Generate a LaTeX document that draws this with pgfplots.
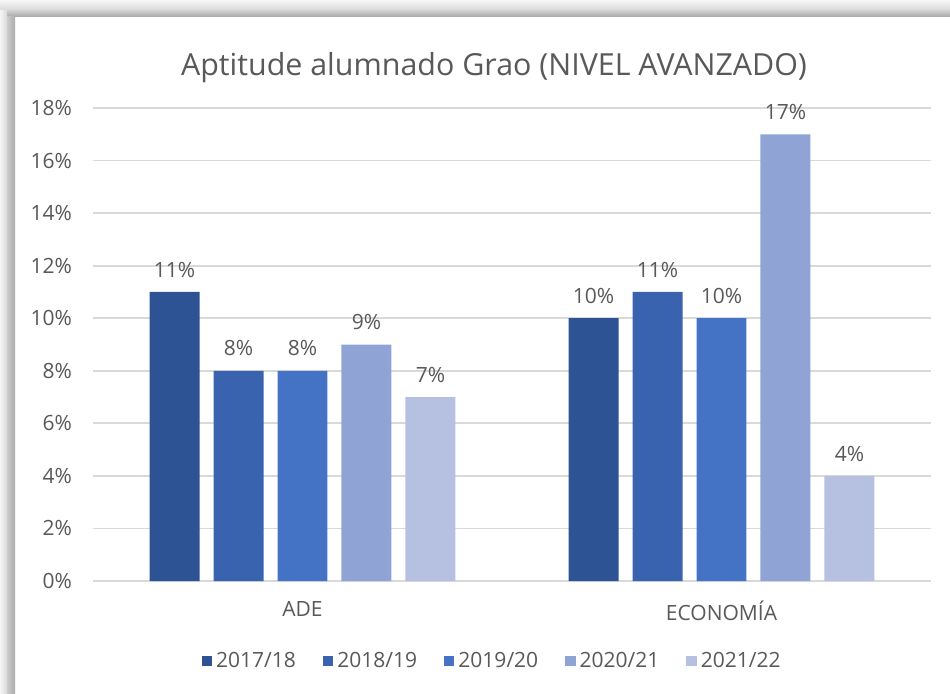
\documentclass[border=0pt]{standalone}
\usepackage{fontspec}
\setmainfont{Open Sans}
\usepackage{pgfplots}
\pgfplotsset{compat=1.18}

\definecolor{txt}{HTML}{595959}
\definecolor{gridc}{HTML}{D9D9D9}
\definecolor{cA}{HTML}{2E5395}
\definecolor{cB}{HTML}{3963AF}
\definecolor{cC}{HTML}{4472C4}
\definecolor{cD}{HTML}{8FA3D4}
\definecolor{cE}{HTML}{B6C0E0}

\pgfplotsset{/pgfplots/ybar legend/.style={/pgfplots/legend image code/.code={\fill[##1,draw=none] (0pt,-2.6pt) rectangle (5.2pt,2.6pt);}}}

\begin{document}
\begin{tikzpicture}
\fill[white] (0,0) rectangle (475pt,346.5pt);
% shadowed frame (top and left)
\shade[top color=gray!6, bottom color=gray!30] (0,341.5pt) rectangle (475pt,346.5pt);
\shade[top color=gray!35, bottom color=gray!65] (0,338.5pt) rectangle (475pt,341.5pt);
\shade[left color=gray!8, right color=gray!30] (0,0) rectangle (3.5pt,341.5pt);
\shade[left color=gray!40, right color=gray!65] (3.5pt,0) rectangle (7.5pt,338.5pt);

\node[font=\fontsize{15.2}{18}\selectfont, text=txt] at (247pt,312.5pt) {Aptitude alumnado Grao (NIVEL AVANZADO)};

\begin{axis}[
  at={(46.5pt,56pt)}, anchor=south west,
  scale only axis,
  width=419pt, height=236.5pt,
  ybar,
  bar width=0.1193,
  xmin=-0.5, xmax=1.5,
  ymin=0, ymax=18,
  ytick={0,2,...,18},
  xtick={0,1},
  xticklabels={ADE,ECONOMÍA},
  major tick length=0pt,
  axis line style={draw=none},
  ymajorgrids,
  grid style={gridc, line width=0.9pt},
  /pgf/number format/assume math mode=true,
  yticklabel={\pgfmathprintnumber{\tick}\%},
  ticklabel style={font=\fontsize{10.5}{12}\selectfont, text=txt},
  yticklabel style={xshift=-7pt},
  xticklabel style={yshift=-6.5pt},
  nodes near coords={\pgfmathprintnumber{\pgfplotspointmeta}\%},
  every node near coord/.append style={font=\fontsize{10.5}{12}\selectfont, text=txt, yshift=3.8pt},
  legend columns=5,
  legend style={at={(0.4775,-0.169)}, anchor=center, draw=none, fill=none,
    font=\fontsize{10.5}{12}\selectfont, text=txt,
    /tikz/every even column/.append style={column sep=11.5pt}},
  legend cell align=left,
]
\addplot[fill=cA, draw=none, bar shift=-0.3054] coordinates {(0,11) (1,10)};
\addplot[fill=cB, draw=none, bar shift=-0.1527] coordinates {(0,8) (1,11)};
\addplot[fill=cC, draw=none, bar shift=0] coordinates {(0,8) (1,10)};
\addplot[fill=cD, draw=none, bar shift=0.1527] coordinates {(0,9) (1,17)};
\addplot[fill=cE, draw=none, bar shift=0.3054] coordinates {(0,7) (1,4)};
\legend{2017/18,2018/19,2019/20,2020/21,2021/22}
\end{axis}
\pgfresetboundingbox
\path[use as bounding box] (0,0) rectangle (475pt,346.5pt);
\end{tikzpicture}
\end{document}
